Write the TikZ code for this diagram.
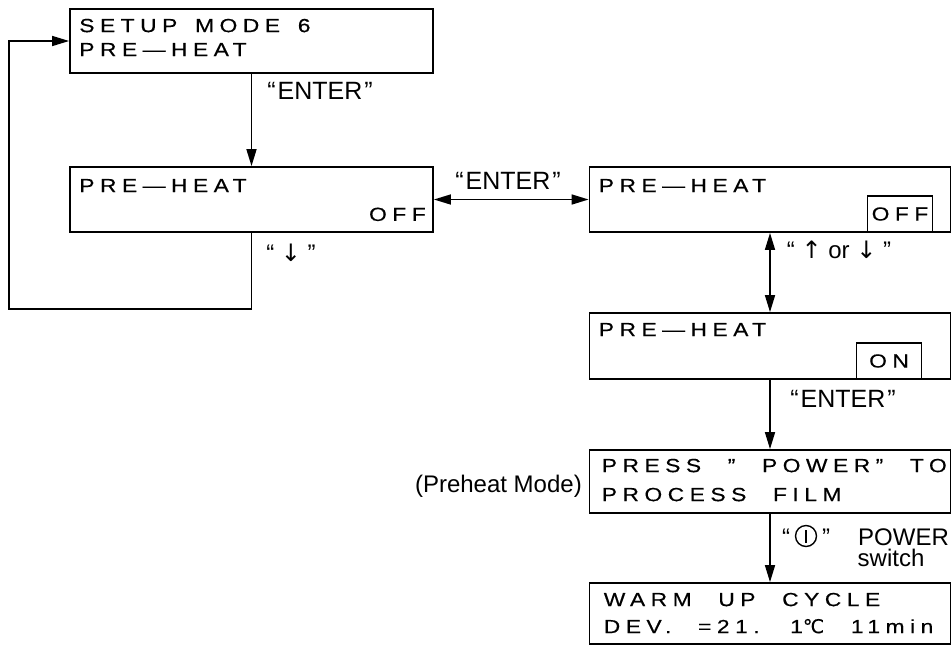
\documentclass[tikz,border=0pt]{standalone}
\usepackage{fontspec}
\setmainfont{Liberation Sans}
\newfontfamily\lcdfont[LetterSpace=29,WordSpace=2.2,FakeStretch=1.2,FakeBold=0.4]{Liberation Sans}
\newfontfamily\lcdtight[LetterSpace=29,WordSpace=1.5,FakeStretch=1.2,FakeBold=0.4]{Liberation Sans}
\newfontfamily\lcdsym[LetterSpace=29,FakeBold=0.4]{DejaVu Sans}
\newfontfamily\arrowfont{DejaVu Sans}
\usetikzlibrary{arrows.meta,positioning}

\tikzset{
  panel/.style={draw,line width=1.8pt,minimum width=361pt,minimum height=64pt,inner sep=0pt},
  valuebox/.style={draw,line width=1.8pt,minimum width=65pt,minimum height=36pt,inner sep=0pt,
    font=\lcdfont\fontsize{19}{21}\selectfont},
  lcd/.style={inner sep=0pt,anchor=base west,font=\lcdfont\fontsize{19}{21}\selectfont},
  keylabel/.style={inner sep=0pt,font=\fontsize{24}{26}\selectfont},
  enterlabel/.style={keylabel,font=\fontsize{25}{27}\selectfont},
  flow/.style={line width=1.6pt,-{Triangle[length=17pt,width=10pt]}},
  twoway/.style={line width=1.6pt,{Triangle[length=17pt,width=10pt]}-{Triangle[length=17pt,width=10pt]}},
}
\newcommand{\enterkey}{“\kern2pt ENTER\kern2pt”}

\begin{document}
\begin{tikzpicture}[x=1pt,y=-1pt]
  \useasboundingbox[fill=white] (0,0) rectangle (952,646);
  % display panels
  \node[panel,minimum width=363pt] (setup) at (251.5,41) {};
  \node[panel,minimum width=363pt,minimum height=65pt] (preoff) at (251.5,199.5) {};
  \node[panel,minimum height=65pt] (seloff) at (770,199.5) {};
  \node[panel,minimum height=66pt] (selon) at (770,346) {};
  \node[panel,minimum height=63pt] (press) at (770,481.5) {};
  \node[panel,minimum height=61pt] (warm) at (770,613.5) {};
  % display texts
  \node[lcd] (setup-a) at ([shift={(10,24)}]setup.north west) {SETUP MODE 6};
  \node[lcd] (setup-b) at ([shift={(10,48)}]setup.north west) {PRE—HEAT};
  \node[lcd] (preoff-a) at ([shift={(10,26)}]preoff.north west) {PRE—HEAT};
  \node[lcd,anchor=base east] (preoff-b) at ([shift={(-8,-12)}]preoff.south east) {OFF};
  \node[lcd] (seloff-a) at ([shift={(10,26)}]seloff.north west) {PRE—HEAT};
  \node[valuebox,anchor=south east] (seloff-v) at ([xshift=-18pt]seloff.south east) {OFF};
  \node[lcd] (selon-a) at ([shift={(10,24)}]selon.north west) {PRE—HEAT};
  \node[valuebox,anchor=south east] (selon-v) at ([xshift=-29pt]selon.south east) {ON};
  \node[lcd] (press-a) at ([shift={(13,23)}]press.north west) {\lcdtight PRESS ” POWER” TO};
  \node[lcd] (press-b) at ([shift={(13,52)}]press.north west) {PROCESS FILM};
  \node[lcd] (warm-a) at ([shift={(15,24)}]warm.north west) {WARM UP CYCLE};
  \node[lcd] (warm-b) at ([shift={(15,51)}]warm.north west) {DEV. =21. 1{\lcdsym ℃} 11min};
  % key labels
  \node[enterlabel] (enter-a) at (320,91) {\enterkey};
  \node[keylabel] (downkey) at (291,253) {“ {\arrowfont ↓} ”};
  \node[enterlabel] (enter-b) at (508,181) {\enterkey};
  \node[keylabel] (updown) at (839,250) {“ {\arrowfont ↑} or {\arrowfont ↓} ”};
  \node[enterlabel] (enter-c) at (843,399) {\enterkey};
  \node[keylabel,anchor=east] (modename) at (582,486) {(Preheat Mode)};
  \node[keylabel,anchor=base west] (powerkey) at (782,545) {“\hspace{32pt}”\hspace{28pt}POWER};
  \node[keylabel] (switchword) at (891,558) {switch};
  % power symbol between the quotes
  \draw[line width=1.4pt] ([shift={(24,-9)}]powerkey.base west) circle[radius=10.5pt];
  \draw[line width=1.4pt] ([shift={(24,-2.5)}]powerkey.base west) -- ++(0,-13);
  % connectors
  \draw[flow] (setup.south) -- (preoff.north);
  \coordinate (loopturn) at (9,309);
  \draw[flow] (preoff.south) |- (loopturn) |- (setup.west);
  \draw[twoway] (preoff.east) -- (seloff.west);
  \draw[twoway] (seloff.south) -- (selon.north);
  \draw[flow] (selon.south) -- (press.north);
  \draw[flow] (press.south) -- (warm.north);
\end{tikzpicture}
\end{document}
